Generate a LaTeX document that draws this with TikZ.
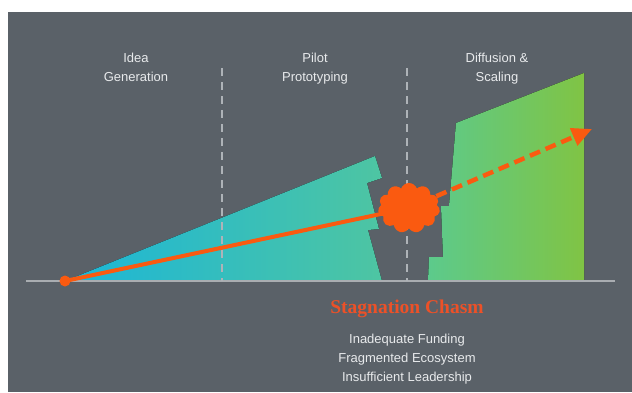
\documentclass[tikz,border=0pt]{standalone}
\usepackage{fontspec}
\setmainfont{Liberation Sans}
\newfontfamily\chasmfont{Liberation Serif}
\usetikzlibrary{positioning,arrows.meta,shapes.symbols}
\definecolor{panelgray}{HTML}{5A6168}
\definecolor{axisgray}{HTML}{A9ADB1}
\definecolor{dashgray}{HTML}{AEB3B8}
\definecolor{labelgray}{HTML}{E8EAEC}
\definecolor{ideacyan}{HTML}{1BB6D8}
\definecolor{ideateal}{HTML}{4EC5A2}
\definecolor{scalegreen}{HTML}{5CCA8C}
\definecolor{scalelime}{HTML}{80C444}
\definecolor{chasmorange}{HTML}{FA5A10}
\definecolor{chasmred}{HTML}{EC5128}
\begin{document}
\begin{tikzpicture}[x=1pt,y=-1pt,node distance=9pt,
  phase/.style={text=labelgray,align=center,anchor=north,
                font=\fontsize{13}{19}\selectfont},
  divider/.style={draw=dashgray,line width=1.4pt,dash pattern=on 8pt off 6pt},
  route/.style={draw=chasmorange,line width=4pt},
  forecast/.style={route,line width=4.5pt,dash pattern=on 11pt off 6pt,
                   -{Triangle[length=20pt,width=18pt]}}]
\useasboundingbox (0,0) rectangle (632,392);
\fill[white] (0,0) rectangle (632,392);
\fill[panelgray] (8,12) rectangle (632,392);
% growth stages
\fill[left color=ideacyan,right color=ideateal]
  (65,281) -- (375,156) -- (382,178) -- (367,183) -- (379,229)
  -- (368,230) -- (382,281) -- cycle;
\fill[left color=scalegreen,right color=scalelime]
  (428,281) -- (429,257) -- (443,257) -- (441,206) -- (449,206)
  -- (456,123) -- (584,73) -- (584,281) -- cycle;
\coordinate (axisL) at (26,281);
\coordinate (axisR) at (615,281);
\draw[axisgray,line width=2.5pt] (axisL) -- (axisR);
\coordinate (cutAtop) at (222,68); \coordinate (cutAbot) at (222,281);
\coordinate (cutBtop) at (407,68); \coordinate (cutBbot) at (407,281);
\draw[divider] (cutAtop) -- (cutAbot);
\draw[divider] (cutBtop) -- (cutBbot);
\node[phase] (idea) at (136,49.7) {Idea\\Generation};
\node[phase] (pilot) at (315,49.7) {Pilot\\Prototyping};
\node[phase] (scale) at (497,49.7) {Diffusion \&\\Scaling};
% trajectory
\node[circle,fill=chasmorange,minimum size=11pt,inner sep=0pt] (origin) at (65,281) {};
\coordinate (chasmc) at (409,208);
\draw[route] (origin.center) -- (chasmc);
\node[cloud,cloud puffs=11,cloud puff arc=140,cloud ignores aspect,fill=chasmorange,
      minimum width=62pt,minimum height=50pt,inner sep=0pt] (chasm) at (chasmc) {};
\coordinate (target) at (592,129);
\draw[forecast] (chasm) -- (target);
\node[text=chasmred,anchor=base,font=\chasmfont\bfseries\fontsize{19.5}{22}\selectfont]
  (title) at (407,313.5) {Stagnation Chasm};
\node[phase,below=of title] (causes)
  {Inadequate Funding\\Fragmented Ecosystem\\Insufficient Leadership};
\end{tikzpicture}
\end{document}
